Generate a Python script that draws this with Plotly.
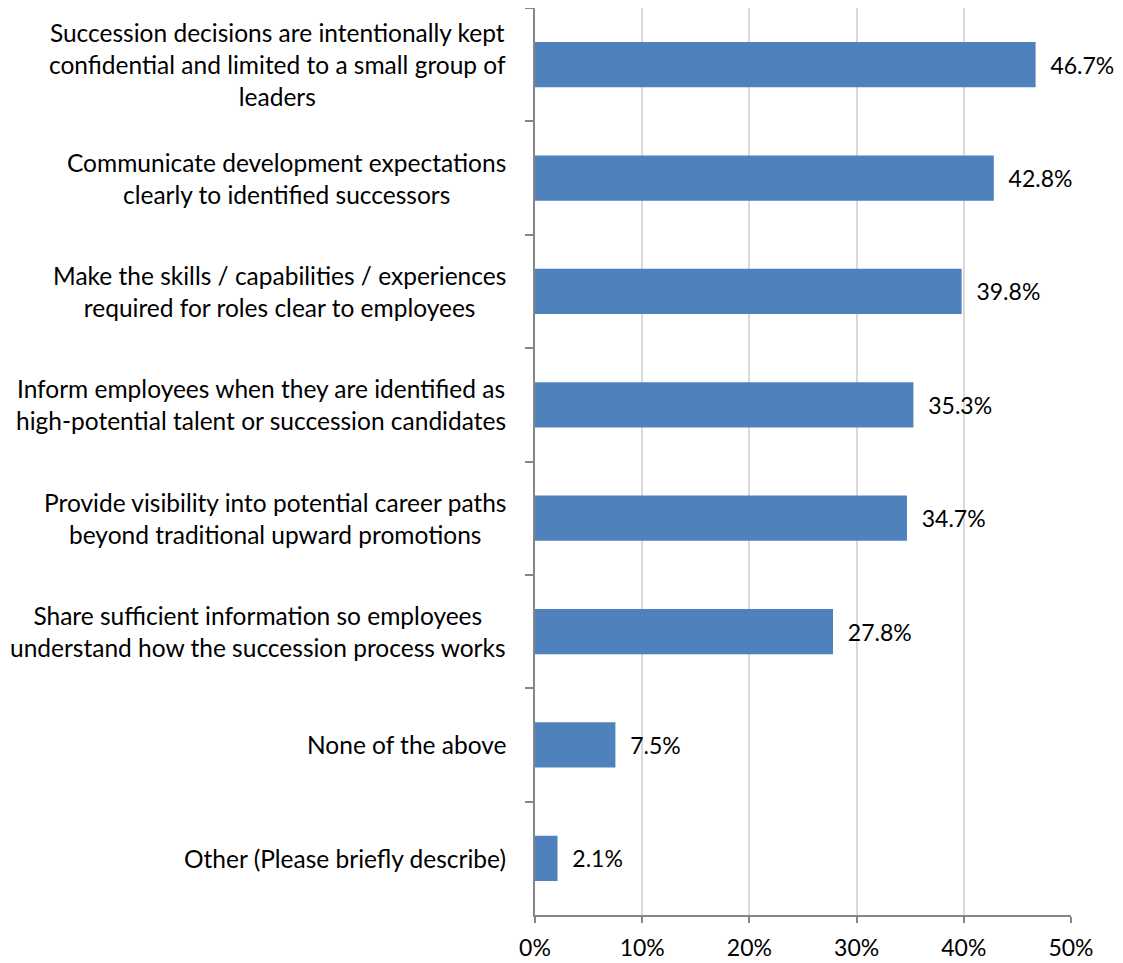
import plotly.graph_objects as go

categories = [
    "Succession decisions are intentionally kept<br>confidential and limited to a small group of<br>leaders",
    "Communicate development expectations<br>clearly to identified successors",
    "Make the skills / capabilities / experiences<br>required for roles clear to employees",
    "Inform employees when they are identified as<br>high-potential talent or succession candidates",
    "Provide visibility into potential career paths<br>beyond traditional upward promotions",
    "Share sufficient information so employees<br>understand how the succession process works",
    "None of the above",
    "Other (Please briefly describe)",
]
values = [46.7, 42.8, 39.8, 35.3, 34.7, 27.8, 7.5, 2.1]
tick_vals = [0, 10, 20, 30, 40, 50]
tick_text = ["0%", "10%", "20%", "30%", "40%", "50%"]

FONT = "Lato, Calibri, Carlito, sans-serif"
AXIS_GREY = "#868686"

fig = go.Figure()
fig.add_trace(go.Bar(
    y=categories,
    x=values,
    orientation="h",
    marker=dict(color="#4F81BD", line=dict(width=0)),
    text=["  %.1f%%" % v for v in values],
    textposition="outside",
    textfont=dict(family=FONT, size=23, color="#000000"),
    cliponaxis=False,
    showlegend=False,
))

# category labels as centred, right-anchored blocks (Excel style)
for c in categories:
    fig.add_annotation(
        x=0, xref="paper", xanchor="right", xshift=-27,
        y=c, yref="y", yanchor="middle",
        text=c, align="center", showarrow=False,
        font=dict(family=FONT, size=24.5, color="#000000"),
    )

# page body adds an 8px offset, so margins are trimmed to compensate
fig.update_layout(
    width=1115, height=955,
    margin=dict(l=527, r=52, t=0, b=48),
    plot_bgcolor="white", paper_bgcolor="white",
    bargap=0.6,
    font=dict(family=FONT, size=23, color="#000000"),
)
fig.update_xaxes(
    range=[0, 50],
    tickvals=tick_vals, ticktext=tick_text,
    showgrid=True, gridcolor="#d9d9d9", gridwidth=1.5,
    showline=True, linecolor=AXIS_GREY, linewidth=1.5,
    ticks="outside", ticklen=6, tickcolor=AXIS_GREY, tickwidth=1.5,
    ticklabelstandoff=6,
    tickfont=dict(family=FONT, size=23, color="#000000"),
    zeroline=False,
)
fig.update_yaxes(
    type="category",
    categoryorder="array", categoryarray=categories,
    autorange="reversed",
    showticklabels=False,
    tickson="boundaries",
    ticks="outside", ticklen=8, tickcolor=AXIS_GREY, tickwidth=1.5,
    showline=True, linecolor=AXIS_GREY, linewidth=1.5,
    showgrid=False, zeroline=False,
)

fig.write_html("out.html")
